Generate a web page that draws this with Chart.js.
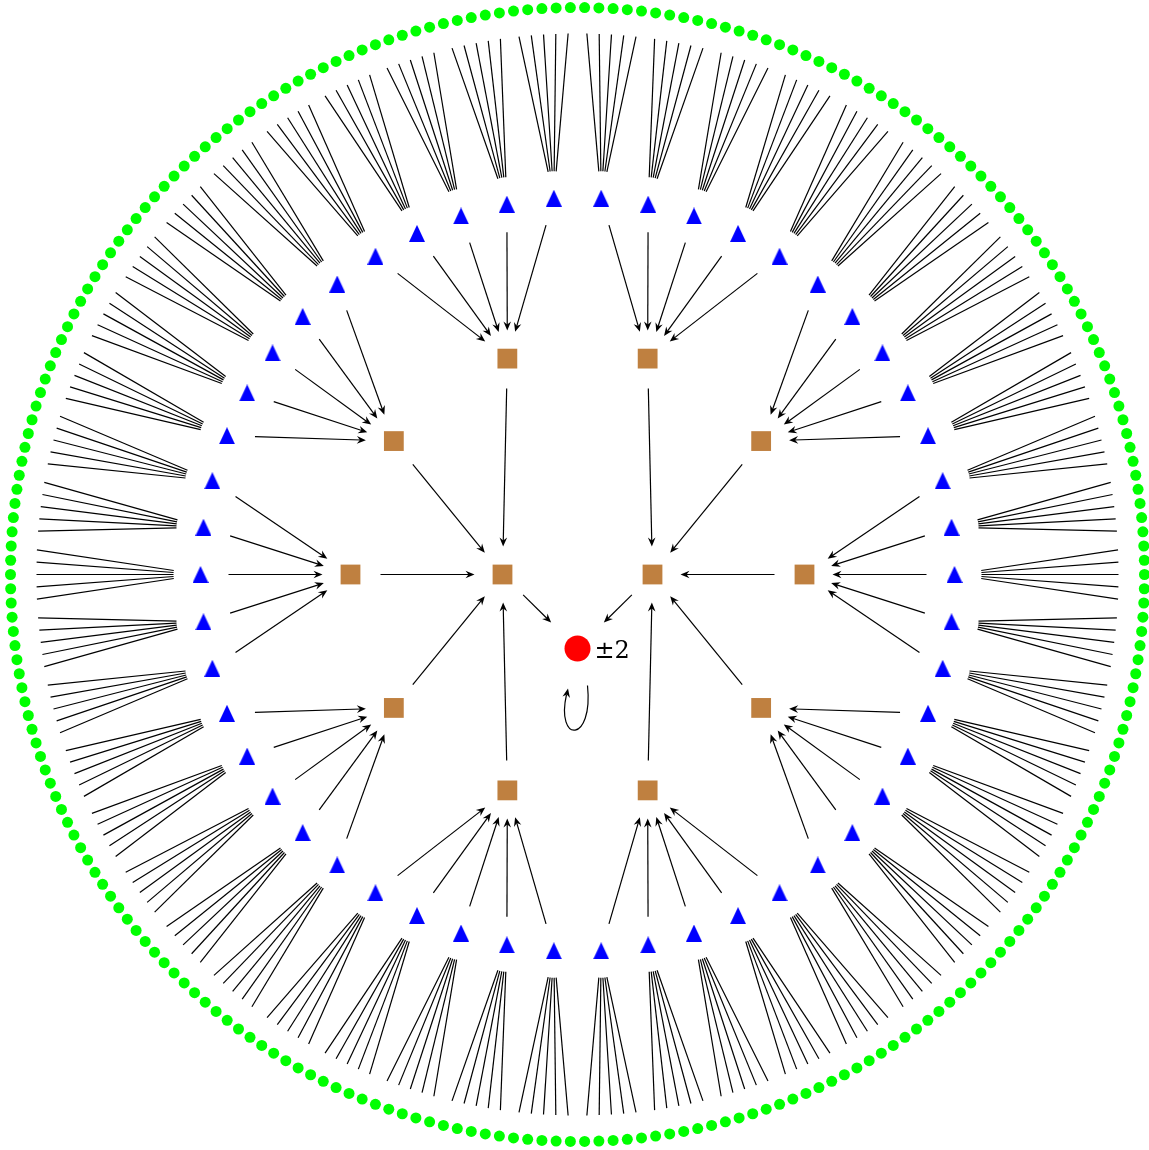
<!DOCTYPE html>
<html>
<head>
<meta charset="utf-8">
<script src="https://cdn.jsdelivr.net/npm/chart.js@4.4.0/dist/chart.umd.min.js"></script>
<style>
  body { margin: 0; background: #fff; }
  #wrap { width: 1149px; height: 1150px; }
</style>
</head>
<body>
<div id="wrap"><canvas id="treeChart"></canvas></div>
<script>
// tree: root <- 2 hubs <- 5 squares each <- 5 triangles each <- 5 leaves each
const levels = ['root', 'hub', 'square', 'triangle', 'leaf'];
const branching = [2, 5, 5, 5];
const hubAngles = [180, 0];
const rootLabel = '±2';

// layout (pixels / degrees)
const layout = {
    rootOffset: -74,
    radius: [0, 75, 227, 377, 567],
    step: [0, 0, 36, 7.2, 1.44]
};

function polar(angle, r) {
    const a = angle * Math.PI / 180;
    return { x: r * Math.cos(a), y: r * Math.sin(a) };
}

// build node levels and edges
var nodes = [[{ x: 0, y: layout.rootOffset, angle: 0 }]];
var edges = [];
nodes.push(hubAngles.map(function (a) {
    const p = polar(a, layout.radius[1]);
    const n = { x: p.x, y: p.y, angle: a };
    edges.push({ from: n, to: nodes[0][0], level: 1 });
    return n;
}));
for (let lv = 2; lv < levels.length; lv++) {
    const count = branching[lv - 1];
    const row = [];
    nodes[lv - 1].forEach(function (parent) {
        for (let j = 0; j < count; j++) {
            const a = parent.angle + (j - (count - 1) / 2) * layout.step[lv];
            const p = polar(a, layout.radius[lv]);
            const n = { x: p.x, y: p.y, angle: a };
            edges.push({ from: n, to: parent, level: lv });
            row.push(n);
        }
    });
    nodes.push(row);
}

// edge gaps per child level: [start gap, end gap, arrow]
const edgeStyle = {
    1: [29, 37, true],
    2: [30, 28, true],
    3: [28, 28, true],
    4: [26, 27, false]
};

function arrowHead(ctx, tx, ty, ux, uy) {
    const len = 9, half = 3.8, notch = 6;
    const px = -uy, py = ux;
    ctx.beginPath();
    ctx.moveTo(tx, ty);
    ctx.lineTo(tx - ux * len + px * half, ty - uy * len + py * half);
    ctx.lineTo(tx - ux * notch, ty - uy * notch);
    ctx.lineTo(tx - ux * len - px * half, ty - uy * len - py * half);
    ctx.closePath();
    ctx.fill();
}

const edgePlugin = {
    id: 'edges',
    beforeDatasetsDraw(chart) {
        const ctx = chart.ctx, xs = chart.scales.x, ys = chart.scales.y;
        ctx.save();
        ctx.strokeStyle = '#000';
        ctx.fillStyle = '#000';
        ctx.lineWidth = 1.2;
        edges.forEach(function (e) {
            const s = edgeStyle[e.level];
            const x0 = xs.getPixelForValue(e.from.x), y0 = ys.getPixelForValue(e.from.y);
            const x1 = xs.getPixelForValue(e.to.x), y1 = ys.getPixelForValue(e.to.y);
            const d = Math.hypot(x1 - x0, y1 - y0);
            const ux = (x1 - x0) / d, uy = (y1 - y0) / d;
            const sx = x0 + ux * s[0], sy = y0 + uy * s[0];
            const tx = x1 - ux * s[1], ty = y1 - uy * s[1];
            ctx.beginPath();
            ctx.moveTo(sx, sy);
            if (s[2]) {
                ctx.lineTo(tx - ux * 5, ty - uy * 5);
            } else {
                ctx.lineTo(tx, ty);
            }
            ctx.stroke();
            if (s[2]) arrowHead(ctx, tx, ty, ux, uy);
        });
        ctx.restore();
    },
    afterDatasetsDraw(chart) {
        const ctx = chart.ctx;
        const root = nodes[0][0];
        const rx = chart.scales.x.getPixelForValue(root.x);
        const ry = chart.scales.y.getPixelForValue(root.y);
        ctx.save();
        // label
        ctx.fillStyle = '#000';
        ctx.font = '24px "DejaVu Serif"';
        ctx.textBaseline = 'alphabetic';
        ctx.fillText(rootLabel, rx + 17, ry + 9);
        // self loop
        ctx.strokeStyle = '#000';
        ctx.lineWidth = 1.2;
        ctx.beginPath();
        ctx.moveTo(rx + 10, ry + 37);
        ctx.bezierCurveTo(rx + 16, ry + 95, rx - 22, ry + 95, rx - 11, ry + 46);
        ctx.stroke();
        const ux = 0.2, uy = -1, n = Math.hypot(ux, uy);
        ctx.fillStyle = '#000';
        arrowHead(ctx, rx - 11 + 1.5, ry + 40, ux / n, uy / n);
        ctx.restore();
    }
};

// blue triangle marker (slightly taller than wide)
const tri = document.createElement('canvas');
tri.width = 16;
tri.height = 17;
const tc = tri.getContext('2d');
tc.fillStyle = '#0000ff';
tc.beginPath();
tc.moveTo(8, 0);
tc.lineTo(16, 17);
tc.lineTo(0, 17);
tc.closePath();
tc.fill();

const ctx = document.getElementById('treeChart').getContext('2d');
var treeChart = new Chart(ctx, {
    type: 'scatter',
    data: {
        datasets: [
            {
                label: 'leaf',
                data: nodes[4],
                pointStyle: 'circle',
                pointRadius: 5.5,
                backgroundColor: '#00ff00',
                borderWidth: 0
            },
            {
                label: 'triangle',
                data: nodes[3],
                pointStyle: tri,
                backgroundColor: '#0000ff',
                borderWidth: 0
            },
            {
                label: 'square',
                data: nodes[2].concat(nodes[1]),
                pointStyle: 'rect',
                pointRadius: 14,
                backgroundColor: '#bf8040',
                borderWidth: 0
            },
            {
                label: 'root',
                data: nodes[0],
                pointStyle: 'circle',
                pointRadius: 13,
                backgroundColor: '#ff0000',
                borderWidth: 0
            }
        ]
    },
    options: {
        responsive: true,
        maintainAspectRatio: false,
        animation: false,
        events: [],
        layout: { padding: 0, autoPadding: false },
        plugins: {
            legend: { display: false },
            tooltip: { enabled: false }
        },
        scales: {
            x: { type: 'linear', display: false, min: -577.5, max: 571.5 },
            y: { type: 'linear', display: false, min: -575.5, max: 574.5 }
        },
        clip: false
    },
    plugins: [edgePlugin]
});
</script>
</body>
</html>
